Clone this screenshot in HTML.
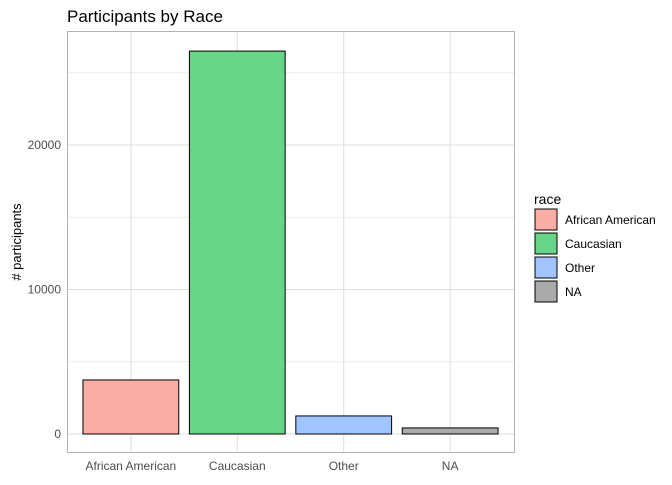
<!DOCTYPE html>
<html><head><meta charset="utf-8"><style>
body{margin:0;background:#fff;font-family:"Liberation Sans",sans-serif}
</style></head><body>
<svg id="chart" width="672" height="480" xmlns="http://www.w3.org/2000/svg" font-family="Liberation Sans, sans-serif">
<rect width="672" height="480" fill="#fff"/>
<text x="67" y="22" font-size="17" fill="#000">Participants by Race</text>
<text transform="translate(21,242) rotate(-90)" text-anchor="middle" font-size="13" fill="#000"># participants</text>
<g id="grid"></g><g id="bars"></g><g id="axes"></g>
<rect x="67.5" y="31.5" width="447" height="421" fill="none" stroke="#b3b3b3"/>
<g id="legend"></g>
</svg>
<script>
const categories=["African American","Caucasian","Other","NA"];
const counts=[3740,26500,1250,420];
const fills=["#faada7","#66d588","#a0c4ff","#aaaaaa"];
const yTicks=[0,10000,20000];
const yMinor=[5000,15000,25000];
const svg="http://www.w3.org/2000/svg";
const px0=67,px1=514,py0=452,py1=31;
const yMin=-1246,yMax=27890;
function y(v){return py0-(v-yMin)/(yMax-yMin)*(py0-py1);}
const step=(px1-px0)/(categories.length+0.2);
function x(i){return px0+step*0.6+i*step;}
function mk(t,a,p){const e=document.createElementNS(svg,t);for(const k in a)e.setAttribute(k,a[k]);p.appendChild(e);return e;}
const g=document.getElementById('grid'),b=document.getElementById('bars'),ax=document.getElementById('axes'),lg=document.getElementById('legend');
yMinor.forEach(v=>{const l=mk('line',{x1:px0,x2:px1,y1:y(v),y2:y(v),stroke:'#e6e6e6','stroke-width':0.8},g);

});
yTicks.forEach(v=>{const l=mk('line',{x1:px0,x2:px1,y1:y(v),y2:y(v),stroke:'#dedede','stroke-width':1},g);


const t=mk('text',{x:px0-6,y:y(v)+4,'text-anchor':'end','font-size':12,fill:'#4d4d4d'},ax);t.textContent=v;

});
categories.forEach((c,i)=>{const l=mk('line',{x1:x(i),x2:x(i),y1:py1,y2:py0,stroke:'#dedede','stroke-width':1},g);


const w=step*0.9;
const r=mk('rect',{x:x(i)-w/2,y:y(counts[i]),width:w,height:y(0)-y(counts[i]),fill:fills[i],stroke:'#000','stroke-width':1},b);


const t=mk('text',{x:x(i),y:py0+18,'text-anchor':'middle','font-size':12,fill:'#4d4d4d'},ax);t.textContent=c;


const k=mk('rect',{x:535,y:209+i*24,width:22,height:21,fill:fills[i],stroke:'#000','stroke-width':1},lg);


const lt=mk('text',{x:565,y:224+i*24,'font-size':12,fill:'#000'},lg);lt.textContent=c;

});
const lt=mk('text',{x:534,y:204,'font-size':14,fill:'#000'},lg);lt.textContent='race';


</script>
</body></html>
